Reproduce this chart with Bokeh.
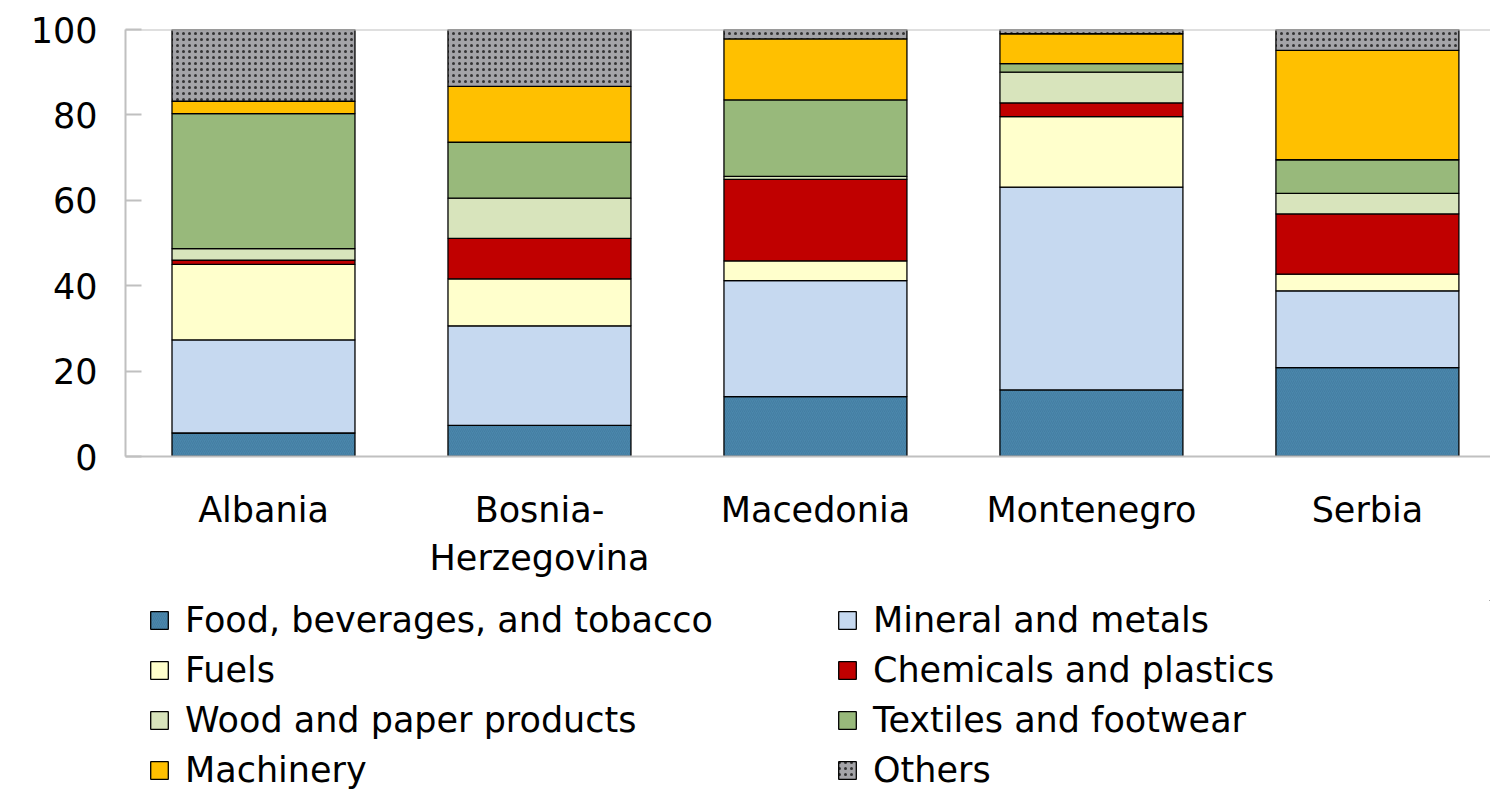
from bokeh.plotting import figure
from bokeh.layouts import column
from bokeh.models import Range1d, FixedTicker, Span, Legend, LegendItem
from bokeh.embed import file_html
from bokeh.resources import INLINE
import numpy as np

countries = ["Albania", "Bosnia-\nHerzegovina", "Macedonia", "Montenegro", "Serbia"]
series = ["Food, beverages, and tobacco", "Mineral and metals", "Fuels",
          "Chemicals and plastics", "Wood and paper products", "Textiles and footwear",
          "Machinery", "Others"]
food = [5.5, 7.3, 14.0, 15.6, 20.8]
mineral = [21.8, 23.3, 27.2, 47.5, 18.0]
fuels = [17.7, 11.0, 4.6, 16.5, 3.9]
chemicals = [1.0, 9.5, 19.1, 3.2, 14.1]
wood = [2.7, 9.4, 0.7, 7.2, 4.8]
textiles = [31.6, 13.1, 17.9, 2.0, 7.9]
machinery = [2.9, 13.1, 14.3, 7.0, 25.6]
others = [16.8, 13.3, 2.2, 1.0, 4.9]
y_ticks = [0, 20, 40, 60, 80, 100]

data = [food, mineral, fuels, chemicals, wood, textiles, machinery, others]
colors = ["#4a87ac", "#c6d9f0", "#ffffcc", "#c00000", "#d8e4bc", "#98b97b", "#ffc000", "#a4a4a8"]
hatches = ["/", None, None, None, None, None, None, "."]
hatch_colors = ["#3b6f92", None, None, None, None, None, None, "#202020"]

FONT = "DejaVu Sans"
FS = "35px"
W = 1490

p = figure(width=W, height=600, output_backend="svg", toolbar_location=None,
           x_range=Range1d(0, 4.946), y_range=Range1d(0, 100),
           min_border_left=125, min_border_top=29, min_border_right=0, min_border_bottom=144)
p.outline_line_color = None
p.xgrid.visible = False
p.ygrid.visible = False

# legend strip below the chart
lg = figure(width=W, height=189, output_backend="svg", toolbar_location=None,
            x_axis_type=None, y_axis_type=None, x_range=Range1d(0, 1), y_range=Range1d(0, 1),
            min_border_left=125, min_border_top=0, min_border_right=0, min_border_bottom=0)
lg.outline_line_color = None
lg.xgrid.visible = False
lg.ygrid.visible = False


def style(i):
    kw = dict(fill_color=colors[i], line_color="black", line_width=1.3)
    if hatches[i]:
        kw.update(hatch_pattern=hatches[i], hatch_color=hatch_colors[i],
                  hatch_scale=6 if i == 7 else 4, hatch_weight=1.3 if i == 7 else 0.8,
                  hatch_alpha=0.85 if i == 7 else 0.5)
    return kw


x = np.arange(len(countries)) + 0.5
bottom = np.zeros(len(countries))
items = []
for i, vals in enumerate(data):
    top = bottom + np.array(vals)
    p.vbar(x=x, bottom=bottom, top=top, width=0.663, **style(i))
    # legend-only renderer, placed far outside the visible range of the legend strip
    dummy = lg.vbar(x=[100.0], bottom=[100.0], top=[101.0], width=0.5, **style(i))
    items.append(LegendItem(label=series[i], renderers=[dummy]))
    bottom = top

p.add_layout(Span(location=100, dimension="width", line_color="#c0c0c0", line_width=2))

p.yaxis.ticker = FixedTicker(ticks=y_ticks)
p.yaxis.axis_line_color = "#c0c0c0"
p.yaxis.axis_line_width = 2
p.yaxis.major_tick_line_color = "#c0c0c0"
p.yaxis.major_tick_line_width = 2
p.yaxis.major_tick_in = 16
p.yaxis.major_tick_out = 0
p.yaxis.minor_tick_line_color = None
p.yaxis.major_label_standoff = 28
p.yaxis.major_label_text_font = FONT
p.yaxis.major_label_text_font_size = FS
p.yaxis.major_label_text_color = "black"

p.xaxis.ticker = FixedTicker(ticks=list(x))
p.xaxis.major_label_overrides = {float(v): c for v, c in zip(x, countries)}
p.xaxis.axis_line_color = "#c0c0c0"
p.xaxis.axis_line_width = 2
p.xaxis.major_tick_line_color = None
p.xaxis.minor_tick_line_color = None
p.xaxis.major_label_standoff = 27
p.xaxis.major_label_text_font = FONT
p.xaxis.major_label_text_font_size = FS
p.xaxis.major_label_text_color = "black"

# column-major legend layout: reorder so rows read pairwise as in the reference
order = [0, 2, 4, 6, 1, 3, 5, 7]
legend = Legend(items=[items[k] for k in order], ncols=2, location=(23, -1),
                label_text_font=FONT, label_text_font_size=FS, label_text_color="black",
                glyph_width=22, glyph_height=22, label_standoff=15, label_width=641,
                spacing=10, padding=0, margin=0, border_line_color=None,
                background_fill_alpha=0)
lg.add_layout(legend, "center")

open("out.html", "w").write(file_html(column(p, lg, spacing=0), INLINE))
